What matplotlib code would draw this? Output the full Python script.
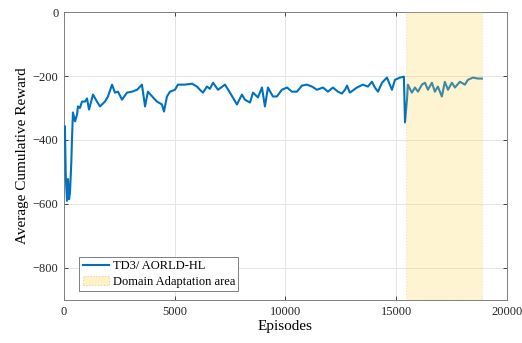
import numpy as np
import matplotlib
matplotlib.use("Agg")
import matplotlib.pyplot as plt
from matplotlib.patches import Patch
from matplotlib.lines import Line2D

# episodes / average cumulative reward
episodes = [0, 40, 80, 135, 180, 230, 270, 330, 360, 405, 500, 590, 630, 720, 810, 950,
            1040, 1130, 1310, 1490, 1625, 1850, 1985, 2170, 2300, 2440, 2620, 2845,
            3070, 3300, 3520, 3660, 3790, 4020, 4200, 4425, 4515, 4650, 4785, 5010,
            5145, 5465, 5780, 6005, 6140, 6275, 6455, 6590, 6730, 6955, 7270, 7495,
            7810, 8035, 8170, 8400, 8535, 8760, 8940, 9075, 9210, 9435, 9615, 9840,
            10070, 10295, 10520, 10745, 10970, 11200, 11420, 11695, 11920, 12145,
            12370, 12550, 12690, 12780, 12910, 13230, 13500, 13725, 13905, 14040,
            14180, 14360, 14585, 14810, 14945, 15170, 15350, 15400, 15490, 15530,
            15710, 15850, 15985, 16165, 16300, 16435, 16615, 16750, 16885, 17065,
            17200, 17340, 17520, 17655, 17880, 18105, 18240, 18465, 18690, 18870]
reward = [-380, -357, -513, -590, -522, -585, -565, -470, -398, -314, -342, -320, -295,
          -300, -280, -280, -270, -305, -258, -280, -295, -280, -264, -227, -252,
          -249, -274, -252, -249, -243, -227, -295, -249, -267, -280, -289, -311,
          -264, -249, -243, -227, -227, -224, -233, -243, -252, -233, -240, -221,
          -243, -227, -252, -289, -258, -274, -283, -252, -267, -236, -295, -236,
          -264, -264, -243, -236, -249, -249, -230, -227, -233, -243, -236, -249,
          -236, -249, -255, -243, -230, -252, -236, -227, -233, -218, -236, -249,
          -221, -205, -243, -212, -205, -202, -345, -274, -227, -252, -236, -249,
          -227, -221, -243, -221, -249, -233, -264, -218, -243, -221, -236, -218,
          -227, -212, -205, -208, -208]

da_start, da_end = 15450, 18880

plt.rcParams['font.family'] = ['Liberation Serif', 'DejaVu Serif']

fig = plt.figure(figsize=(5.22, 3.43), dpi=100)
ax = fig.add_axes([0.1226, 0.1254, 0.8484, 0.8396])

blue = '#0072bd'
ax.plot(episodes, reward, color=blue, linewidth=1.5, zorder=3)
ax.axvspan(da_start, da_end, facecolor='#ffd54f', alpha=0.25, edgecolor='#b8b090',
           linestyle=':', linewidth=0.8, zorder=4)

ax.set_xlim(0, 20000)
ax.set_ylim(-900, 0)
ax.set_xticks([0, 5000, 10000, 15000, 20000])
ax.set_yticks([-800, -600, -400, -200, 0])
ax.grid(True, color='#e4e4e4', linewidth=0.7, zorder=0)
ax.tick_params(direction='in', length=3, width=0.6, colors='#262626', top=True, right=True,
               labelsize=9, pad=4)
for s in ax.spines.values():
    s.set_color('#808080')
    s.set_linewidth(0.7)

ax.set_xlabel('Episodes', fontsize=11, labelpad=2)
ax.set_ylabel('Average Cumulative Reward', fontsize=11, labelpad=3)

handles = [Line2D([], [], color=blue, linewidth=1.5),
           Patch(facecolor='#fff2c4', edgecolor='#d8d0b0', linestyle=':', linewidth=0.8)]
leg = ax.legend(handles, ['TD3/ AORLD-HL', 'Domain Adaptation area'],
                loc='lower left', bbox_to_anchor=(0.035, 0.03), borderaxespad=0,
                fontsize=9, fancybox=False, framealpha=1, edgecolor='#808080',
                handlelength=2.1, borderpad=0.25, labelspacing=0.3, handletextpad=0.3)
leg.get_frame().set_linewidth(0.7)

fig.savefig('out.png', dpi=100)
